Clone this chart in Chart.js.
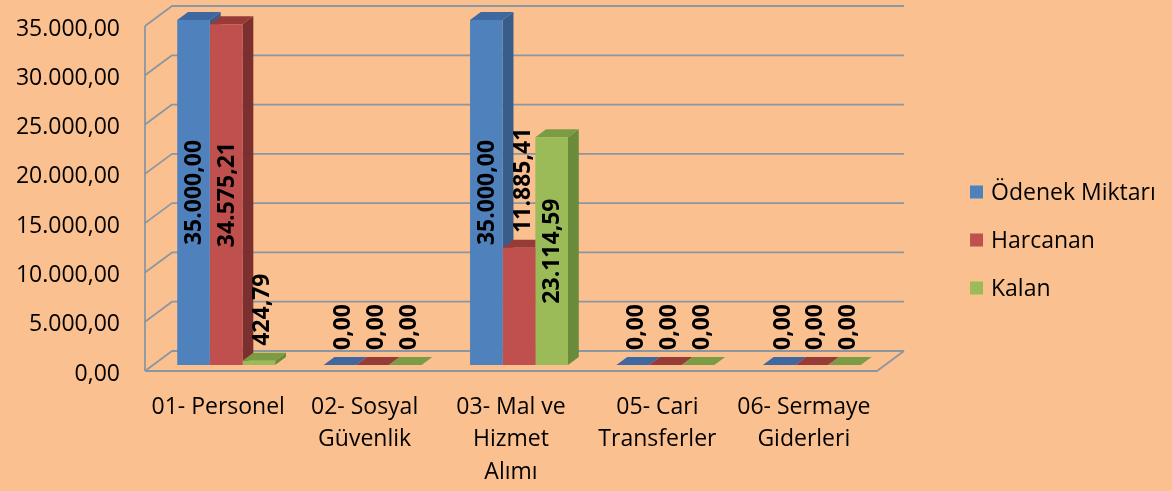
<!DOCTYPE html>
<html>
<head>
<meta charset="utf-8">
<script src="https://cdn.jsdelivr.net/npm/chart.js@4.4.1/dist/chart.umd.min.js"></script>
<style>
html,body{margin:0;padding:0;background:#FAC090;}
canvas{display:block;}
</style>
</head>
<body>
<canvas id="c" width="1172" height="491"></canvas>
<script>
// ---- data ----
const categories = [
  ['01- Personel'],
  ['02- Sosyal', 'Güvenlik'],
  ['03- Mal ve', 'Hizmet', 'Alımı'],
  ['05- Cari', 'Transferler'],
  ['06- Sermaye', 'Giderleri']
];
const seriesNames = ['Ödenek Miktarı', 'Harcanan', 'Kalan'];
const odenekMiktari = [35000.00, 0, 35000.00, 0, 0];
const harcanan = [34575.21, 0, 11885.41, 0, 0];
const kalan = [424.79, 0, 23114.59, 0, 0];
const yMin = 0, yMax = 35000, yStep = 5000;

// ---- style ----
const FONT = "'Open Sans', 'DejaVu Sans', sans-serif";
const frontColors = ['#4F81BD', '#C0504D', '#9BBB59'];
const sideColors = ['#385D8A', '#7B2F2E', '#6A8A3C'];
const topColors = ['#3F67A0', '#973B39', '#7B9B44'];
const gridColor = '#8C96A0';
const depth = { dx: 10.8, dy: -8 };
const wall = { fx: -8, fy: 6, bx: 19, by: -14 };

function fmtTR(v) {
  const fixed = Math.abs(v).toFixed(2);
  let [ip, dp] = fixed.split('.');
  ip = ip.replace(/\B(?=(\d{3})+(?!\d))/g, '.');
  return (v < 0 ? '-' : '') + ip + ',' + dp;
}

const threeD = {
  id: 'threeD',
  beforeDraw(chart) {
    const ctx = chart.ctx;
    ctx.save();
    ctx.fillStyle = '#FAC090';
    ctx.fillRect(0, 0, chart.width, chart.height);
    ctx.restore();
  },
  beforeDatasetsDraw(chart) {
    const ctx = chart.ctx, ca = chart.chartArea, ys = chart.scales.y;
    ctx.save();
    ctx.strokeStyle = gridColor;
    ctx.lineWidth = 1.8;
    ctx.lineJoin = 'round';
    const y0 = ys.getPixelForValue(yMin);
    const yTop = ys.getPixelForValue(yMax);
    ys.ticks.forEach(t => {
      const py = ys.getPixelForValue(t.value);
      ctx.beginPath();
      ctx.moveTo(ca.left + wall.fx, py + wall.fy);
      ctx.lineTo(ca.left + wall.bx, py + wall.by);
      ctx.lineTo(ca.right + wall.bx, py + wall.by);
      ctx.stroke();
    });
    ctx.beginPath();
    ctx.moveTo(ca.left + wall.fx, yTop + wall.fy);
    ctx.lineTo(ca.left + wall.fx, y0 + wall.fy);
    ctx.stroke();
    ctx.beginPath();
    ctx.moveTo(ca.left + wall.fx, y0 + wall.fy);
    ctx.lineTo(ca.right + wall.fx, y0 + wall.fy);
    ctx.lineTo(ca.right + wall.bx, y0 + wall.by);
    ctx.stroke();

    const n = chart.data.labels.length;
    for (let j = 0; j < n; j++) {
      chart.data.datasets.forEach((ds, i) => {
        const el = chart.getDatasetMeta(i).data[j];
        const p = el.getProps(['x', 'y', 'base', 'width'], true);
        const l = p.x - p.width / 2, r = p.x + p.width / 2;
        const top = Math.min(p.y, p.base), bot = Math.max(p.y, p.base);
        if (bot - top > 0.5) {
          ctx.fillStyle = sideColors[i];
          ctx.beginPath();
          ctx.moveTo(r, top);
          ctx.lineTo(r + depth.dx, top + depth.dy);
          ctx.lineTo(r + depth.dx, bot + depth.dy);
          ctx.lineTo(r, bot);
          ctx.closePath();
          ctx.fill();
        }
        ctx.fillStyle = topColors[i];
        ctx.beginPath();
        ctx.moveTo(l, top);
        ctx.lineTo(r, top);
        ctx.lineTo(r + depth.dx, top + depth.dy);
        ctx.lineTo(l + depth.dx, top + depth.dy);
        ctx.closePath();
        ctx.fill();
      });
    }
    ctx.restore();
  },
  afterDatasetsDraw(chart) {
    const ctx = chart.ctx;
    ctx.save();
    ctx.font = "bold 23px " + FONT;
    ctx.fillStyle = '#000';
    ctx.textAlign = 'center';
    ctx.textBaseline = 'middle';
    chart.data.datasets.forEach((ds, i) => {
      chart.getDatasetMeta(i).data.forEach((el, j) => {
        const v = ds.data[j];
        const txt = fmtTR(v);
        const w = ctx.measureText(txt).width;
        const p = el.getProps(['x', 'y', 'base'], true);
        const h = p.base - p.y;
        let cx, cy;
        if (h >= w + 20) {
          cx = p.x;
          cy = (p.y + p.base) / 2;
        } else {
          cx = p.x + 3;
          cy = p.y + depth.dy - 7 - w / 2;
        }
        ctx.save();
        ctx.translate(cx, cy);
        ctx.rotate(-Math.PI / 2);
        ctx.fillText(txt, 0, 1);
        ctx.restore();
      });
    });
    ctx.restore();
  },
  afterDraw(chart) {
    const ctx = chart.ctx;
    ctx.save();
    ctx.font = "23px " + FONT;
    ctx.textBaseline = 'middle';
    ctx.textAlign = 'left';
    chart.data.datasets.forEach((ds, i) => {
      const cy = 192 + 48 * i;
      ctx.fillStyle = frontColors[i];
      ctx.fillRect(970, cy - 6.5, 13, 13);
      ctx.fillStyle = '#000';
      ctx.fillText(ds.label, 991, cy + 1);
    });
    ctx.restore();
  }
};

new Chart(document.getElementById('c'), {
  type: 'bar',
  data: {
    labels: categories,
    datasets: [
      { label: seriesNames[0], data: odenekMiktari, backgroundColor: frontColors[0] },
      { label: seriesNames[1], data: harcanan, backgroundColor: frontColors[1] },
      { label: seriesNames[2], data: kalan, backgroundColor: frontColors[2] }
    ]
  },
  options: {
    responsive: false,
    devicePixelRatio: 1,
    animation: false,
    events: [],
    layout: { padding: { top: 20, right: 287, left: 0, bottom: 0 } },
    datasets: { bar: { categoryPercentage: 0.669, barPercentage: 1.0, borderWidth: 0 } },
    plugins: { legend: { display: false }, tooltip: { enabled: false } },
    scales: {
      x: {
        grid: { display: false, drawTicks: false, tickLength: 0 },
        border: { display: false },
        ticks: {
          color: '#000',
          font: { family: FONT, size: 23, lineHeight: 1.41 },
          padding: 26,
          labelOffset: -8,
          maxRotation: 0, minRotation: 0, autoSkip: false
        },
        afterFit(scale) {
          scale.height = 126;
          scale.paddingLeft = 0; scale.paddingRight = 0;
          scale.paddingTop = 0; scale.paddingBottom = 0;
        }
      },
      y: {
        min: yMin, max: yMax,
        grid: { display: false, drawTicks: false, tickLength: 0 },
        border: { display: false },
        ticks: {
          stepSize: yStep,
          color: '#000',
          font: { family: FONT, size: 23 },
          padding: 33,
          labelOffset: 9,
          callback: v => fmtTR(v)
        },
        afterFit(scale) {
          scale.width = 153;
          scale.paddingTop = 0; scale.paddingBottom = 0;
          scale.paddingLeft = 0; scale.paddingRight = 0;
        }
      }
    }
  },
  plugins: [threeD]
});
</script>
</body>
</html>
